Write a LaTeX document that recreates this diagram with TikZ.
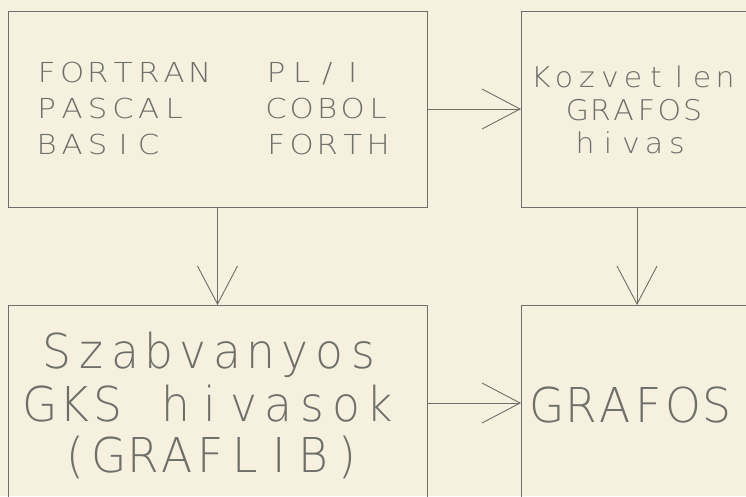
\documentclass[tikz,border=0pt]{standalone}
\usepackage{fontspec}
\usepackage{graphicx}
\usetikzlibrary{arrows.meta}
\newfontfamily\plotfont{DejaVu Sans ExtraLight}
\definecolor{paper}{HTML}{F5F1DE}
\definecolor{ink}{HTML}{6E6E6A}
\makeatletter
\newcommand\plotmono[3]{\@tfor\pm@c:=#3\do{\makebox[#1][c]{\scalebox{#2}[1]{\pm@c}}}}
\makeatother
\tikzset{
  box/.style={draw=ink, line width=0.9pt, rectangle, inner sep=0pt, outer sep=0pt},
  arr/.style={draw=ink, line width=0.9pt, -{Straight Barb[length=38pt,width=40pt]}},
  txt/.style={inner sep=0pt, outer sep=0pt, text=ink},
  smallA/.style={txt, font=\plotfont\fontsize{27.5}{30}\selectfont},
  smallB/.style={txt, font=\plotfont\fontsize{28.5}{30}\selectfont},
  large/.style={txt, font=\plotfont\fontsize{48}{50}\selectfont},
}
\begin{document}
\begin{tikzpicture}[x=1pt,y=-1pt]
\fill[paper] (0,0) rectangle (746,496);
\clip (0,0) rectangle (746,496);
% boxes
\node[box, minimum width=419pt, minimum height=196pt] (A) at (217.5,109) {};
\node[box, minimum width=232pt, minimum height=196pt] (B) at (637,109) {};
\node[box, minimum width=419pt, minimum height=196pt] (C) at (217.5,403) {};
\node[box, minimum width=232pt, minimum height=196pt] (D) at (637,403) {};
% connectors
\draw[arr] (A.east) -- (B.west);
\draw[arr] (A.south) -- (C.north);
\draw[arr] (B.south) -- (D.north);
\draw[arr] (C.east) -- (D.west);
% texts top-left
\node[smallA, anchor=base west] (a1) at (34,82) {\plotmono{25.5pt}{1.12}{FORTRAN~~PL/I}};
\node[smallA, anchor=base west] (a2) at (34,118) {\plotmono{25.5pt}{1.12}{PASCAL~~~COBOL}};
\node[smallA, anchor=base west] (a3) at (34,154) {\plotmono{25.5pt}{1.12}{BASIC~~~~FORTH}};
% texts top-right
\node[smallB, anchor=base] (b1) at (633,87) {\plotmono{23pt}{1.05}{Kozvetlen}};
\node[smallB, anchor=base] (b2) at (635,120) {\plotmono{23pt}{1.05}{GRAFOS}};
\node[smallB, anchor=base] (b3) at (631,153) {\plotmono{23pt}{1.05}{hivas}};
% texts bottom-left
\node[large, anchor=base] (c1) at (210,368) {\plotmono{34pt}{0.95}{Szabvanyos}};
\node[large, anchor=base] (c2) at (210,421) {\plotmono{34pt}{0.95}{GKS~hivasok}};
\node[large, anchor=base] (c3) at (211,472) {\plotmono{34pt}{0.95}{(GRAFLIB)}};
% text bottom-right
\node[large, anchor=base] (d1) at (632,422) {\plotmono{34pt}{0.95}{GRAFOS}};
\end{tikzpicture}
\end{document}
